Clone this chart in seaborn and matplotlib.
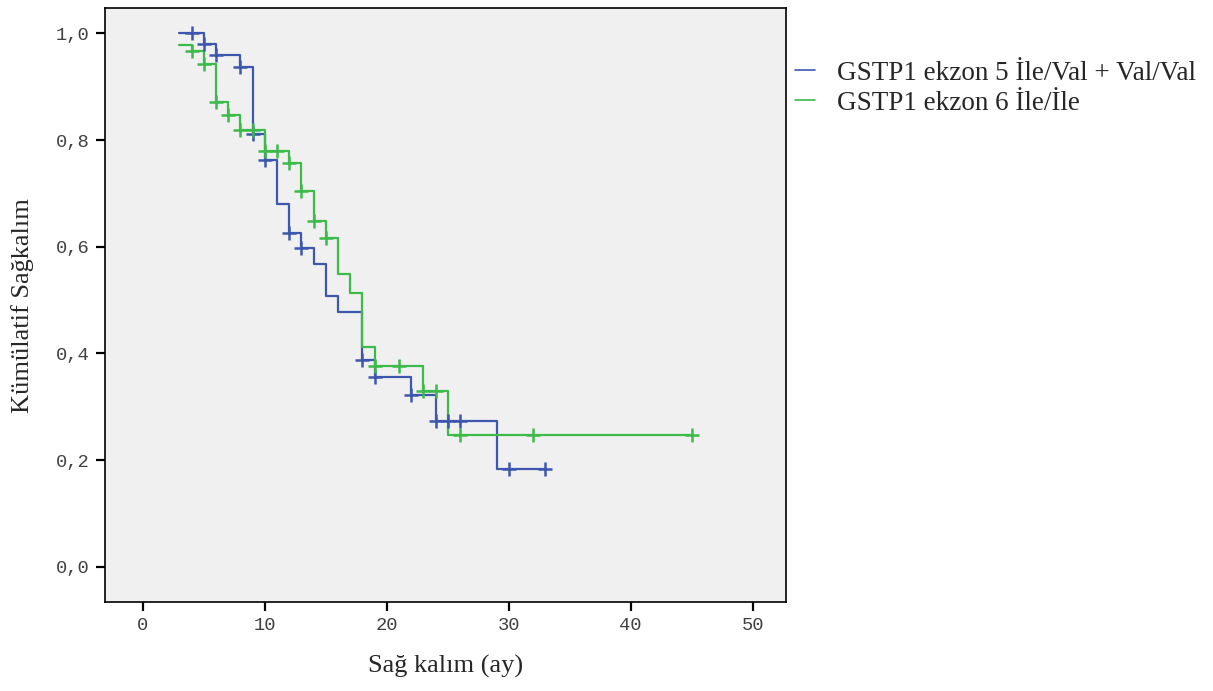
import numpy as np
import pandas as pd
import matplotlib
matplotlib.use("Agg")
import matplotlib.pyplot as plt
import seaborn as sns

# step points (time, survival), plus censor marks
grp1_label = "GSTP1 ekzon 5 İle/Val + Val/Val"
grp1_time = [3, 5, 6, 8, 9, 10, 11, 12, 13, 14, 15, 16, 18, 19, 22, 24, 29, 33]
grp1_surv = [1.0, 0.98, 0.959, 0.936, 0.812, 0.762, 0.680, 0.626, 0.597, 0.567,
             0.508, 0.478, 0.388, 0.356, 0.321, 0.274, 0.184, 0.184]
grp1_cens_time = [4, 5, 6, 8, 9, 10, 12, 13, 18, 19, 22, 24, 25, 26, 30, 33]
grp1_cens_surv = [1.0, 0.98, 0.959, 0.936, 0.812, 0.762, 0.626, 0.597, 0.388,
                  0.356, 0.321, 0.274, 0.274, 0.274, 0.184, 0.184]

grp2_label = "GSTP1 ekzon 6 İle/İle"
grp2_time = [3, 4, 5, 6, 7, 8, 10, 12, 13, 14, 15, 16, 17, 18, 19, 23, 25, 45]
grp2_surv = [0.978, 0.966, 0.943, 0.872, 0.846, 0.818, 0.780, 0.756, 0.704, 0.649,
             0.617, 0.548, 0.514, 0.411, 0.376, 0.330, 0.247, 0.247]
grp2_cens_time = [4, 5, 6, 7, 8, 9, 10, 11, 12, 13, 14, 15, 19, 21, 23, 24, 26, 32, 45]
grp2_cens_surv = [0.966, 0.943, 0.872, 0.846, 0.818, 0.818, 0.780, 0.780, 0.756,
                  0.704, 0.649, 0.617, 0.376, 0.376, 0.330, 0.330, 0.247, 0.247, 0.247]

x_ticks = [0, 10, 20, 30, 40, 50]
y_ticks = [0.0, 0.2, 0.4, 0.6, 0.8, 1.0]

colors = {grp1_label: "#3d57ae", grp2_label: "#3cba4a"}

curves = pd.concat([
    pd.DataFrame({"t": grp1_time, "s": grp1_surv, "g": grp1_label}),
    pd.DataFrame({"t": grp2_time, "s": grp2_surv, "g": grp2_label}),
])
cens = pd.concat([
    pd.DataFrame({"t": grp1_cens_time, "s": grp1_cens_surv, "g": grp1_label}),
    pd.DataFrame({"t": grp2_cens_time, "s": grp2_cens_surv, "g": grp2_label}),
])

sns.set_style("white")
plt.rcParams["font.family"] = ["Liberation Serif", "DejaVu Serif"]

fig = plt.figure(figsize=(12.13, 6.91), dpi=100)
ax = fig.add_axes([0.0866, 0.129, 0.561, 0.859])
ax.set_facecolor("#f0f0f0")

for g in [grp1_label, grp2_label]:
    d = curves[curves["g"] == g]
    ax.step(d["t"], d["s"], where="post", color=colors[g], lw=1.6, label=g)
    c = cens[cens["g"] == g]
    sns.scatterplot(data=c, x="t", y="s", marker="+", color=colors[g], s=110,
                    linewidth=1.8, ax=ax, legend=False, zorder=3)

ax.set_xlim(-3.1, 52.7)
ax.set_ylim(-0.066, 1.047)
ax.set_xticks(x_ticks)
ax.set_yticks(y_ticks)
ax.set_xticklabels([str(v) for v in x_ticks], family="Liberation Mono",
                   fontsize=13.5, color="#404040")
ax.set_yticklabels([f"{v:.1f}".replace(".", ",") for v in y_ticks],
                   family="Liberation Mono", fontsize=13.5, color="#404040")
ax.tick_params(axis="both", direction="out", length=6.5, width=1.6, color="black",
               pad=4.5, bottom=True, left=True)
for sp in ax.spines.values():
    sp.set_color("black")
    sp.set_linewidth(1.2)

ax.set_xlabel("Sağ kalım (ay)", fontsize=19)
ax.set_ylabel("Kümülatif Sağkalım", fontsize=19)
ax.xaxis.set_label_coords(0.5, -0.09)
ax.yaxis.set_label_coords(-0.104, 0.5)

leg = ax.legend(loc="upper left", bbox_to_anchor=(1.014, 0.912), frameon=False,
                fontsize=19.5, handlelength=0.75, handletextpad=0.8,
                labelspacing=0.2, borderaxespad=0, borderpad=0)
for h in leg.get_lines():
    h.set_linewidth(1.2)

fig.savefig("out.png", dpi=100, facecolor="white")
